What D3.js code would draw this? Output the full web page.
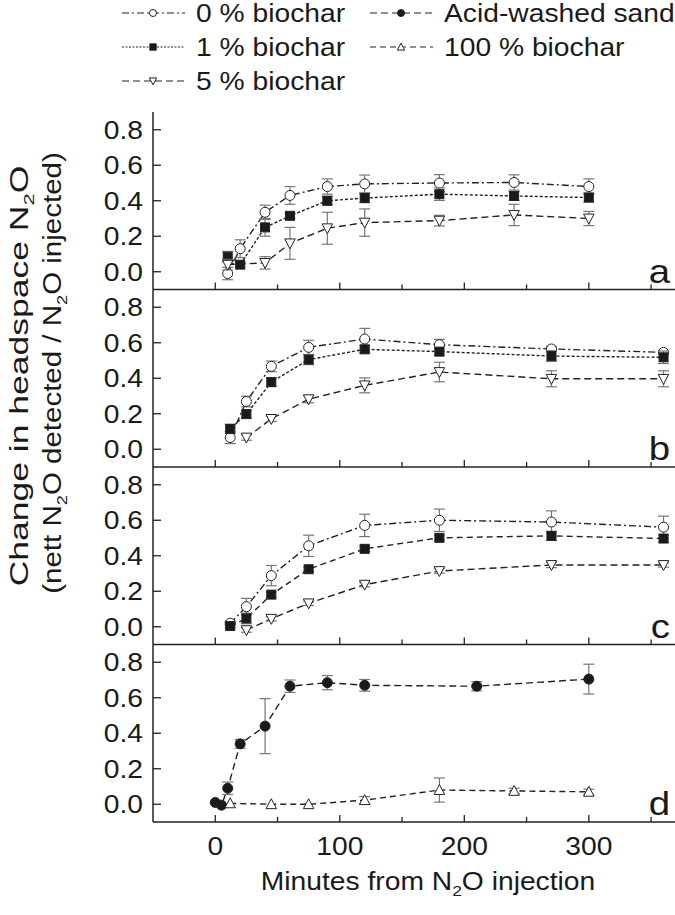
<!DOCTYPE html>
<html><head><meta charset="utf-8">
<script src="https://cdn.jsdelivr.net/npm/d3@7/dist/d3.min.js"></script>
<style>body{margin:0;background:#fff}svg{display:block}</style>
</head><body>
<svg id="c" width="675" height="915"></svg>
<script>
// ---- data ----
const panelLabels = ["a","b","c","d"];
const yTicks = [0.0,0.2,0.4,0.6,0.8];
const xTicksMajor = [0,100,200,300];
const xTicksMinor = [50,150,250,350];

const tA  = [10,20,40,60,90,120,180,240,300];
const tA5 = [10,40,60,90,120,180,240,300];
const tBC  = [12,25,45,75,120,180,270,360];
const tBC5 = [25,45,75,120,180,270,360];
const tSand = [0,5,10,20,40,60,90,120,210,300];
const t100 = [12,45,75,120,180,240,300];

const a0 = [-0.01,0.13,0.335,0.43,0.48,0.495,0.50,0.503,0.48];
const a0e = [0.035,0.05,0.04,0.05,0.043,0.05,0.047,0.043,0.043];
const a1 = [0.085,0.04,0.25,0.315,0.40,0.415,0.437,0.427,0.418];
const a1e = [0.03,0.015,0.05,0.015,0.025,0.025,0.035,0.025,0.025];
const a5 = [0.04,0.05,0.16,0.245,0.277,0.288,0.32,0.30];
const a5e = [0.03,0.035,0.09,0.09,0.077,0.03,0.06,0.04];

const b0 = [0.066,0.269,0.467,0.574,0.621,0.589,0.565,0.546];
const b0e = [0.034,0.03,0.03,0.04,0.06,0.03,0.015,0.01];
const b1 = [0.115,0.198,0.378,0.505,0.563,0.55,0.525,0.518];
const b1e = [0.025,0.02,0.024,0.028,0.02,0.02,0.03,0.035];
const b5 = [0.066,0.171,0.282,0.36,0.435,0.397,0.397];
const b5e = [0.015,0.015,0.02,0.042,0.055,0.045,0.045];

const c0 = [0.02,0.113,0.288,0.456,0.571,0.60,0.59,0.561];
const c0e = [0.01,0.047,0.057,0.06,0.063,0.063,0.063,0.062];
const c1 = [0.004,0.047,0.181,0.324,0.439,0.501,0.512,0.497];
const c1e = [0.01,0.03,0.015,0.012,0.015,0.015,0.025,0.02];
const c5 = [-0.019,0.045,0.132,0.237,0.314,0.348,0.348];
const c5e = [0.012,0.012,0.012,0.012,0.012,0.015,0.012];

const dSand = [0.01,-0.005,0.09,0.34,0.44,0.665,0.685,0.67,0.665,0.705];
const dSande = [0,0,0.035,0.025,0.155,0.035,0.04,0.033,0.026,0.084];
const d100 = [0.005,0,0,0.023,0.08,0.075,0.07];
const d100e = [0,0,0,0.02,0.068,0.015,0.015];

// ---- layout ----
const svg = d3.select("#c");
const FONT = "'Liberation Sans', Arial, Helvetica, sans-serif";
const SX = 1.13;
const x = d3.scaleLinear().domain([-50,370]).range([153,676]);
const top0 = 112, ph = 177.5;
const ink = "#222", errCol = "#777";

const styles = {
  s0:  {marker:"circle", fill:"#fff", dash:"7,3,2,3"},
  s1:  {marker:"square", fill:"#1a1a1a", dash:"3,2"},
  s1c: {marker:"square", fill:"#1a1a1a", dash:"6,4"},
  s5:  {marker:"tdown", fill:"#fff", dash:"7,4"},
  sand:{marker:"circle", fill:"#1a1a1a", dash:"7,4"},
  s100:{marker:"tup", fill:"#fff", dash:"6,4"}
};

const panelSeries = [
  [{t:tA,v:a0,e:a0e,s:"s0"},{t:tA,v:a1,e:a1e,s:"s1"},{t:tA5,v:a5,e:a5e,s:"s5"}],
  [{t:tBC,v:b0,e:b0e,s:"s0"},{t:tBC,v:b1,e:b1e,s:"s1"},{t:tBC5,v:b5,e:b5e,s:"s5"}],
  [{t:tBC,v:c0,e:c0e,s:"s0"},{t:tBC,v:c1,e:c1e,s:"s1c"},{t:tBC5,v:c5,e:c5e,s:"s5"}],
  [{t:tSand,v:dSand,e:dSande,s:"sand"},{t:t100,v:d100,e:d100e,s:"s100"}]
];

function marker(g, type, cx, cy, fill, size) {
  const r = size;
  if (type==="circle") g.append("circle").attr("cx",cx).attr("cy",cy).attr("r",r)
      .attr("fill",fill).attr("stroke",ink).attr("stroke-width",1);
  else if (type==="square") g.append("rect").attr("x",cx-r*0.9).attr("y",cy-r*0.9)
      .attr("width",r*1.8).attr("height",r*1.8).attr("fill",fill).attr("stroke",ink).attr("stroke-width",1);
  else {
    const s = type==="tdown" ? 1 : -1;
    const h = r*1.1;
    g.append("path").attr("d",`M${cx-r*1.05},${cy-s*h*0.8}L${cx+r*1.05},${cy-s*h*0.8}L${cx},${cy+s*h*1.0}Z`)
      .attr("fill",fill).attr("stroke",ink).attr("stroke-width",1);
  }
}

function addParts(t, parts, size) {
  if (typeof parts === "string") parts = [parts];
  let shift = 0;
  parts.forEach(p => {
    if (typeof p === "string") {
      const ts = t.append("tspan").text(p);
      if (shift) { ts.attr("dy", -shift); shift = 0; }
    } else {
      shift = size*0.22;
      t.append("tspan").attr("font-size", size*0.62).attr("dy", shift).text(p.sub);
    }
  });
}
function stext(g, tx, ty, anchor, size, parts) {
  const t = g.append("text").attr("transform",`translate(${tx},${ty}) scale(${SX},1)`)
    .attr("text-anchor",anchor).attr("font-family",FONT).attr("font-size",size).attr("fill","#1a1a1a");
  addParts(t, parts, size);
  return t;
}

panelLabels.forEach((lab, i) => {
  const pt = top0 + i*ph, pb = pt + ph;
  const y = d3.scaleLinear().domain([-0.1,0.9]).range([pb, pt]);
  const g = svg.append("g");
  g.append("line").attr("x1",x(-50)).attr("x2",x(-50)).attr("y1",pt).attr("y2",pb).attr("stroke",ink).attr("stroke-width",1.5);
  g.append("line").attr("x1",x(-50)).attr("x2",675).attr("y1",pb).attr("y2",pb).attr("stroke",ink).attr("stroke-width",1.5);
  xTicksMajor.forEach(v => g.append("line").attr("x1",x(v)).attr("x2",x(v)).attr("y1",pb).attr("y2",pb-7).attr("stroke",ink).attr("stroke-width",1.3));
  xTicksMinor.forEach(v => g.append("line").attr("x1",x(v)).attr("x2",x(v)).attr("y1",pb).attr("y2",pb-5).attr("stroke",ink).attr("stroke-width",1.3));
  yTicks.forEach(v => {
    g.append("line").attr("x1",x(-50)).attr("x2",x(-50)+8).attr("y1",y(v)).attr("y2",y(v)).attr("stroke",ink).attr("stroke-width",1.3);
    stext(g, x(-50)-10, y(v)+9, "end", 25, d3.format(".1f")(v));
  });
  stext(g, 670, pb-7, "end", 34, lab);

  panelSeries[i].forEach(ser => {
    const st = styles[ser.s];
    const pts = ser.t.map((t,k)=>({t, v:ser.v[k], e:ser.e[k]}));
    const line = d3.line().x(d=>x(d.t)).y(d=>y(d.v));
    g.append("path").attr("d",line(pts)).attr("fill","none").attr("stroke",ink)
      .attr("stroke-width",1.4).attr("stroke-dasharray",st.dash);
    pts.forEach(d => {
      if (d.e > 0) {
        const X = x(d.t), y1 = y(d.v+d.e), y2 = y(d.v-d.e);
        g.append("line").attr("x1",X).attr("x2",X).attr("y1",y1).attr("y2",y2).attr("stroke",errCol).attr("stroke-width",1.2);
        [y1,y2].forEach(yy => g.append("line").attr("x1",X-5.5).attr("x2",X+5.5).attr("y1",yy).attr("y2",yy).attr("stroke",errCol).attr("stroke-width",1.2));
      }
    });
    pts.forEach(d => marker(g, st.marker, x(d.t), y(d.v), st.fill, 5));
  });
});

// x axis labels
const bottom = top0 + 4*ph;
xTicksMajor.forEach(v => stext(svg, x(v), bottom+33, "middle", 25, String(v)));
stext(svg, 428, bottom+68, "middle", 25, ["Minutes from N",{sub:"2"},"O injection"]);

// y title (stretched along reading direction)
[[28, 376, 1.42, ["Change in headspace N",{sub:"2"},"O"]],
 [61, 373, 1.18, ["(nett N",{sub:"2"},"O detected / N",{sub:"2"},"O injected)"]]].forEach(([xx, yc, sc, parts]) => {
  const t = svg.append("text").attr("transform",`translate(${xx},${yc}) rotate(-90) scale(${sc},1)`)
    .attr("text-anchor","middle").attr("font-family",FONT).attr("font-size",25).attr("fill","#1a1a1a");
  addParts(t, parts, 25);
});

// legend
const legendItems = [
  {name:"0 % biochar", s:"s0", lx:122, ly:13},
  {name:"1 % biochar", s:"s1", lx:122, ly:47},
  {name:"5 % biochar", s:"s5", lx:122, ly:81},
  {name:"Acid-washed sand", s:"sand", lx:370, ly:13},
  {name:"100 % biochar", s:"s100", lx:370, ly:47}
];
legendItems.forEach(it => {
  const st = styles[it.s];
  svg.append("line").attr("x1",it.lx).attr("x2",it.lx+63).attr("y1",it.ly).attr("y2",it.ly)
    .attr("stroke",ink).attr("stroke-width",1.2).attr("stroke-dasharray", it.s==="s1" ? "2,1.5" : st.dash);
  marker(svg, st.marker, it.lx+31, it.ly, st.fill, 3.5);
  stext(svg, it.lx+74, it.ly+9, "start", 25, it.name);
});
</script>
</body></html>
